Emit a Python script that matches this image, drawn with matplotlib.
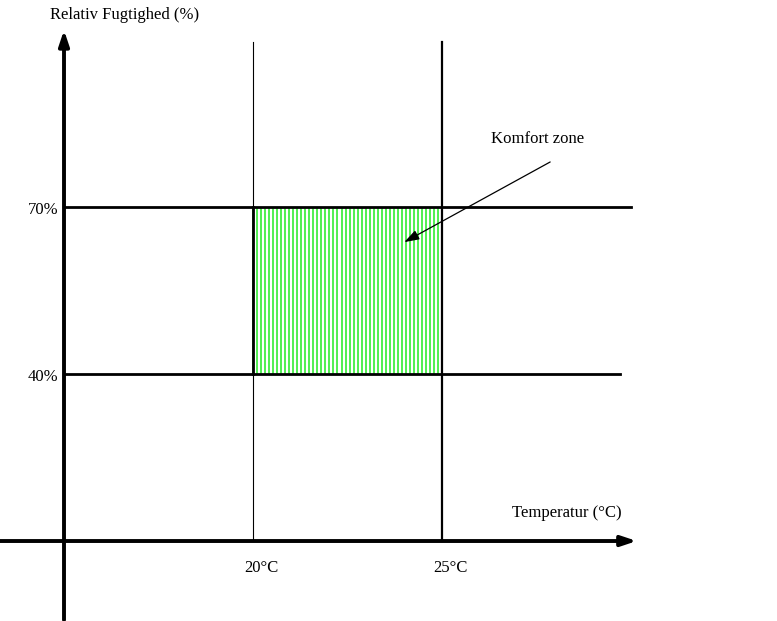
import numpy as np
import matplotlib
matplotlib.use('Agg')
import matplotlib.pyplot as plt

# comfort zone limits
temp_limits = [20, 25]          # deg C
humidity_limits = [40, 70]      # %
temp_labels = ['20°C', '25°C']
humidity_labels = ['40%', '70%']

# origin of the sketch axes (temperature, humidity)
x0, y0 = 15, 10

plt.rcParams['font.family'] = ['Liberation Serif', 'DejaVu Serif']

fig = plt.figure(figsize=(7.77, 6.21), dpi=100)
ax = fig.add_axes([0, 0, 1, 1])
ax.set_xlim(13.307, 33.86)
ax.set_ylim(-4.37, 107.2)
ax.axis('off')

fs = 12

# green hatching inside the comfort zone (about one line every 4 px)
hatch = ax.vlines(np.linspace(temp_limits[0], temp_limits[1], 48), humidity_limits[0], humidity_limits[1],
                  color='#55ee55', lw=1.44, antialiased=False, zorder=1)
hatch.set_snap(True)

# vertical temperature lines
ax.plot([temp_limits[0]] * 2, [y0, 99.6], color='black', lw=0.8, zorder=2)
ax.plot([temp_limits[1]] * 2, [y0, 99.6], color='black', lw=1.6, zorder=2)
# box border on the left side
ax.plot([temp_limits[0]] * 2, humidity_limits, color='black', lw=2.0, zorder=2)

# horizontal humidity lines
ax.plot([x0, 30.0], [humidity_limits[1]] * 2, color='black', lw=2.0, zorder=2)
ax.plot([x0, 29.7], [humidity_limits[0]] * 2, color='black', lw=2.0, zorder=2)

# axes with arrows
ax.annotate('', xy=(30.15, y0), xytext=(13.307, y0),
            arrowprops=dict(arrowstyle='-|>,head_length=0.9,head_width=0.3',
                            lw=2.8, color='black', shrinkA=0, shrinkB=0), zorder=3)
ax.annotate('', xy=(x0, 101.8), xytext=(x0, -4.2),
            arrowprops=dict(arrowstyle='-|>,head_length=0.9,head_width=0.3',
                            lw=2.8, color='black', shrinkA=0, shrinkB=0), zorder=3)

# pointer to the comfort zone
ax.annotate('', xy=(24.0, 63.7), xytext=(27.86, 78.1),
            arrowprops=dict(arrowstyle='-|>,head_length=0.9,head_width=0.3',
                            lw=0.9, color='black', shrinkA=0, shrinkB=0), zorder=4)
ax.text(26.3, 82.2, 'Komfort zone', fontsize=fs, ha='left', va='center')

# labels
ax.text(14.63, 104.5, 'Relativ Fugtighed (%)', fontsize=fs, ha='left', va='center')
ax.text(26.85, 15.0, 'Temperatur (°C)', fontsize=fs, ha='left', va='center')
for t, lab in zip(temp_limits, temp_labels):
    ax.text(t + 0.22, 5.15, lab, fontsize=fs, ha='center', va='center')
for h, lab in zip(humidity_limits, humidity_labels):
    ax.text(14.85, h - 0.5, lab, fontsize=fs, ha='right', va='center')

fig.savefig('out.png', dpi=100)
